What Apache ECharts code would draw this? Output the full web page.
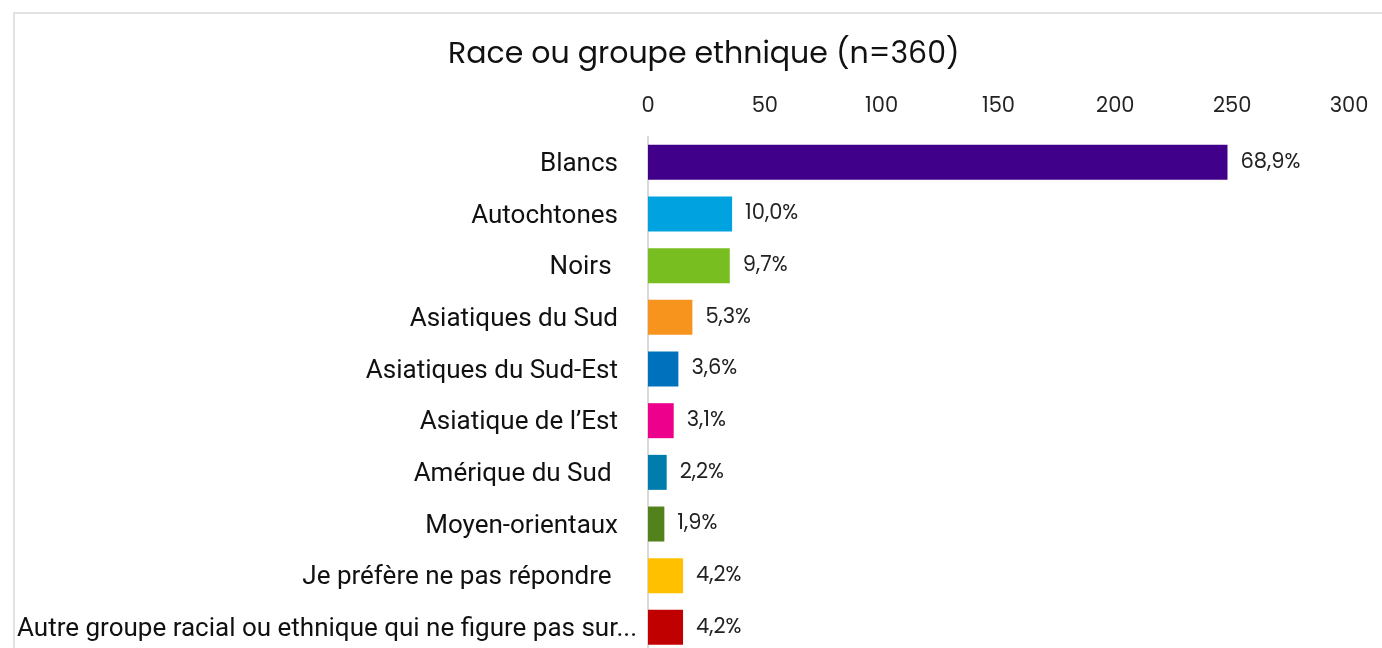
<!DOCTYPE html>
<html>
<head>
<meta charset="utf-8">
<script src="https://cdn.jsdelivr.net/npm/echarts@6/dist/echarts.min.js"></script>
<style>
html,body{margin:0;padding:0;background:#fff;}
#chart{width:1382px;height:648px;}
</style>
</head>
<body>
<div id="chart"></div>
<script>
const categories = [
  "Blancs",
  "Autochtones",
  "Noirs ",
  "Asiatiques du Sud",
  "Asiatiques du Sud-Est",
  "Asiatique de l\u2019Est",
  "Amérique du Sud ",
  "Moyen-orientaux",
  "Je préfère ne pas répondre ",
  "Autre groupe racial ou ethnique qui ne figure pas sur cette liste"
];
const counts = [248, 36, 35, 19, 13, 11, 8, 7, 15, 15];
const percentLabels = ["68,9%", "10,0%", "9,7%", "5,3%", "3,6%", "3,1%", "2,2%", "1,9%", "4,2%", "4,2%"];
const barColors = ["#400089", "#00a3e0", "#78be20", "#f7941d", "#0071bc", "#ec008c", "#007dac", "#53811b", "#ffc000", "#c00000"];
const xTicks = [0, 50, 100, 150, 200, 250, 300];

const catFont = "26px Roboto";
const measureCtx = document.createElement('canvas').getContext('2d');
measureCtx.font = catFont;
function shorten(text, maxW) {
  if (measureCtx.measureText(text).width <= maxW) return null;
  let s = text;
  while (s.length && measureCtx.measureText(s).width > maxW) s = s.slice(0, -1);
  return s.trimEnd() + '...';
}

const chart = echarts.init(document.getElementById('chart'));
const poppins = "Poppins, 'Open Sans', Lato, sans-serif";
chart.setOption({
  animation: false,
  title: {
    text: "Race ou groupe ethnique (n=360)",
    left: 443,
    top: 35,
    textStyle: {fontFamily: poppins, fontSize: 30, fontWeight: 'normal', color: '#111'}
  },
  graphic: [{
    type: 'polyline',
    shape: {points: [[14, 700], [14, 13], [1400, 13]]},
    style: {stroke: '#e2e2e2', lineWidth: 2, fill: null}
  }],
  grid: {left: 648, top: 136.5, width: 701, height: 516.7, outerBoundsMode: 'none', containLabel: false},
  xAxis: {
    type: 'value',
    position: 'top',
    min: xTicks[0],
    max: xTicks[xTicks.length - 1],
    interval: 50,
    axisLine: {show: false},
    axisTick: {show: false},
    splitLine: {show: false},
    axisLabel: {fontFamily: poppins, fontSize: 21, color: '#222', margin: 19}
  },
  yAxis: {
    type: 'category',
    inverse: true,
    data: categories,
    axisLine: {show: true, lineStyle: {color: '#d9d9d9', width: 2}},
    axisTick: {show: false},
    axisLabel: {
      margin: 11,
      formatter: (v) => {
        const s = shorten(v, 606);
        if (s) return '{t|' + s + '}';
        return '{t|' + v + '}{g|}';
      },
      rich: {
        t: {fontFamily: "Roboto, sans-serif", fontSize: 26, color: '#111', padding: [4, 0, 0, 0]},
        g: {width: 19}
      }
    }
  },
  series: [{
    type: 'bar',
    data: counts.map((v, i) => ({value: v, itemStyle: {color: barColors[i]}})),
    barWidth: 35,
    label: {
      show: true,
      position: 'right',
      distance: 13,
      fontFamily: poppins,
      fontSize: 21,
      color: '#222',
      formatter: p => percentLabels[p.dataIndex]
    }
  }]
});
</script>
</body>
</html>
